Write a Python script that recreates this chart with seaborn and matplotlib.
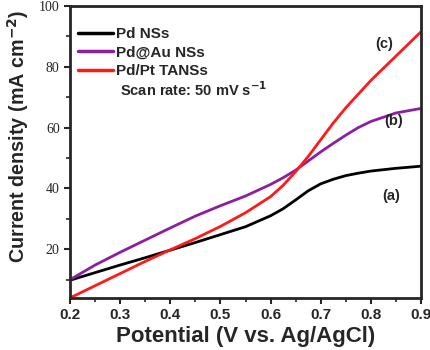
import numpy as np
import pandas as pd
import matplotlib
matplotlib.use('Agg')
import matplotlib.pyplot as plt
import seaborn as sns
from matplotlib.ticker import MultipleLocator

sns.set_style('ticks')
plt.rcParams['font.family'] = ['Liberation Sans', 'DejaVu Sans']

# --- data ---
potential = [0.20, 0.25, 0.30, 0.35, 0.40, 0.45, 0.50, 0.55, 0.60, 0.625, 0.65, 0.675,
             0.70, 0.725, 0.75, 0.775, 0.80, 0.85, 0.90]
pd_ns     = [9.8, 12.3, 14.8, 17.2, 19.7, 22.2, 24.8, 27.4, 31.0, 33.3, 36.2, 39.2,
             41.5, 43.0, 44.2, 45.0, 45.7, 46.6, 47.3]
pd_au_ns  = [10.0, 14.8, 19.0, 23.0, 27.0, 30.9, 34.3, 37.5, 41.3, 43.5, 46.0, 49.0,
             52.0, 54.8, 57.5, 60.0, 62.0, 64.8, 66.3]
pd_pt_ta  = [4.0, 8.0, 12.0, 16.0, 19.8, 23.5, 27.5, 32.0, 37.3, 41.0, 45.5, 50.5,
             56.0, 61.5, 66.5, 71.0, 75.5, 83.5, 91.5]
series_names = ['Pd NSs', 'Pd@Au NSs', 'Pd/Pt TANSs']
series_colors = ['black', '#8B1FA0', '#FF1A1A']
x_ticks = [0.2, 0.3, 0.4, 0.5, 0.6, 0.7, 0.8, 0.9]
y_ticks = [20, 40, 60, 80, 100]

df = pd.DataFrame({
    'potential': potential * 3,
    'current': pd_ns + pd_au_ns + pd_pt_ta,
    'sample': [n for n in series_names for _ in potential],
})

fig = plt.figure(figsize=(4.3, 3.5), dpi=100)
ax = fig.add_axes([0.163, 0.149, 0.816, 0.834])
sns.lineplot(data=df, x='potential', y='current', hue='sample', hue_order=series_names,
             palette=series_colors, lw=2, ax=ax, legend=True)

ax.set_xlim(0.2, 0.9); ax.set_ylim(4, 100)
ax.set_xticks(x_ticks); ax.set_yticks(y_ticks)
ax.xaxis.set_minor_locator(MultipleLocator(0.05))
ax.yaxis.set_minor_locator(MultipleLocator(10))
ax.set_xticklabels([f'{v:.1f}' for v in x_ticks], fontweight='bold', fontsize=11)
ax.set_yticklabels([str(v) for v in y_ticks], family='Liberation Serif', fontsize=10)
ax.tick_params(which='major', direction='out', length=4, width=1.5)
ax.tick_params(which='minor', direction='out', length=3, width=1.2)
for s in ax.spines.values():
    s.set_linewidth(2)

ax.set_xlabel('Potential (V vs. Ag/AgCl)', fontsize=16, fontweight='bold', labelpad=3)
ax.set_ylabel('Current density (mA cm$^{\\mathbf{-2}}$)', fontsize=14.2, fontweight='bold')
ax.yaxis.set_label_coords(-0.11, 0.552)

leg = ax.legend(loc='upper left', frameon=False, prop={'weight': 'bold', 'size': 11},
                handlelength=2.3, handletextpad=0.2, labelspacing=0.3,
                bbox_to_anchor=(0.023, 0.928), borderaxespad=0, borderpad=0)
for h in leg.get_lines():
    h.set_linewidth(2.5)
ax.text(0.142, 0.712, 'Scan rate: 50 mV s$^{\\mathbf{-1}}$', transform=ax.transAxes,
        fontsize=10.5, fontweight='bold', va='center')

ax.text(0.826, 87.5, '(c)', fontsize=10.5, fontweight='bold', ha='center', va='center')
ax.text(0.845, 62, '(b)', fontsize=10.5, fontweight='bold', ha='center', va='center')
ax.text(0.84, 37.5, '(a)', fontsize=10.5, fontweight='bold', ha='center', va='center')

plt.savefig('out.png', dpi=100)
